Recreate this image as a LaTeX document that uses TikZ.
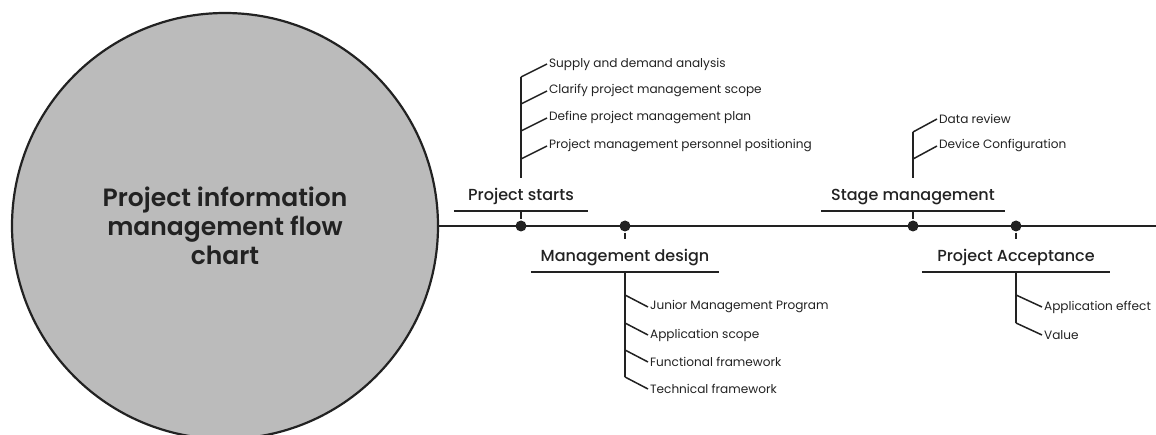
\documentclass[tikz,border=0pt]{standalone}
\usepackage{fontspec}
\setmainfont{Poppins}
\newfontfamily\mediumfont{Poppins Medium}
\newfontfamily\semiboldfont{Poppins SemiBold}

\definecolor{chartgray}{HTML}{BBBBBB}
\definecolor{ink}{HTML}{222222}

\begin{document}
\begin{tikzpicture}[x=1pt, y=-1pt, line width=2.2pt, draw=ink, text=ink,
    hub/.style = {circle, draw, fill=chartgray, minimum size=426pt, align=center,
                  font=\semiboldfont\fontsize{25}{29}\selectfont},
    joint/.style = {circle, fill=ink, inner sep=0pt, minimum size=11pt},
    heading/.style = {anchor=south, inner xsep=0pt, inner ysep=5pt, text height=17pt,
                      text depth=4pt, font=\mediumfont\fontsize{16}{20}\selectfont},
    bar/.style = {line width=2.7pt},
    stem/.style = {line width=2.1pt},
    twig/.style = {line width=1.5pt},
    item/.style = {anchor=west, inner sep=1pt, font=\fontsize{12.1}{15}\selectfont}]
  \useasboundingbox (0, 0) rectangle (1156, 435);

  % Hub and main axis.
  \node at (225, 226) [hub, name=Chart] {Project information\\management flow\\chart};
  \coordinate (AxisEnd) at (1156, 226);
  \draw [bar] (Chart.east) -- (AxisEnd);

  % Joints on the axis.
  \node at (521, 226) [joint, name=StartsDot] {};
  \node at (625, 226) [joint, name=DesignDot] {};
  \node at (913, 226) [joint, name=StageDot] {};
  \node at (1016, 226) [joint, name=AcceptanceDot] {};

  % Stage headings.
  \node at (521, 211) [heading, minimum width=132pt, name=StartsHead] {Project starts};
  \node at (625, 272) [heading, minimum width=186pt, name=DesignHead] {Management design};
  \node at (913, 211) [heading, minimum width=181pt, name=StageHead] {Stage management};
  \node at (1016, 272) [heading, minimum width=186pt, name=AcceptanceHead] {Project Acceptance};

  \draw [bar] (StartsHead.south west) -- (StartsHead.south east);
  \draw [bar] (DesignHead.south west) -- (DesignHead.south east);
  \draw [bar] (StageHead.south west) -- (StageHead.south east);
  \draw [bar] (AcceptanceHead.south west) -- (AcceptanceHead.south east);

  \draw [stem] (StartsHead.south) -- (StartsDot);
  \draw [stem] (DesignDot) -- (DesignHead.north);
  \draw [stem] (StageHead.south) -- (StageDot);
  \draw [stem] (AcceptanceDot) -- (AcceptanceHead.north);

  % Project starts items.
  \node at (547, 64) [item, name=Supply] {Supply and demand analysis};
  \node at (547, 91) [item, name=Clarify] {Clarify project management scope};
  \node at (547, 118) [item, name=Define] {Define project management plan};
  \node at (547, 146) [item, name=Personnel] {Project management personnel positioning};

  \draw [twig] (Supply.west) -- ++(-26, 13) coordinate (StartsTop);
  \draw [twig] (Clarify.west) -- ++(-26, 13);
  \draw [twig] (Define.west) -- ++(-26, 13);
  \draw [twig] (Personnel.west) -- ++(-26, 13);
  \draw [stem] (StartsHead.north) -- (StartsTop);

  % Management design items.
  \node at (648, 307) [item, name=Junior] {Junior Management Program};
  \node at (648, 335) [item, name=Scope] {Application scope};
  \node at (648, 362) [item, name=Functional] {Functional framework};
  \node at (648, 389) [item, name=Technical] {Technical framework};

  \draw [twig] (Junior.west) -- ++(-23, -12);
  \draw [twig] (Scope.west) -- ++(-23, -12);
  \draw [twig] (Functional.west) -- ++(-23, -12);
  \draw [twig] (Technical.west) -- ++(-23, -12) coordinate (DesignBottom);
  \draw [stem] (DesignHead.south) -- (DesignBottom);

  % Stage management items.
  \node at (937, 119) [item, name=Review] {Data review};
  \node at (937, 146) [item, name=Device] {Device Configuration};

  \draw [twig] (Review.west) -- ++(-24, 13) coordinate (StageTop);
  \draw [twig] (Device.west) -- ++(-24, 13);
  \draw [stem] (StageHead.north) -- (StageTop);

  % Project Acceptance items.
  \node at (1042, 307) [item, name=Effect] {Application effect};
  \node at (1042, 335) [item, name=Value] {Value};

  \draw [twig] (Effect.west) -- ++(-26, -12);
  \draw [twig] (Value.west) -- ++(-26, -12) coordinate (AcceptanceBottom);
  \draw [stem] (AcceptanceHead.south) -- (AcceptanceBottom);
\end{tikzpicture}
\end{document}
